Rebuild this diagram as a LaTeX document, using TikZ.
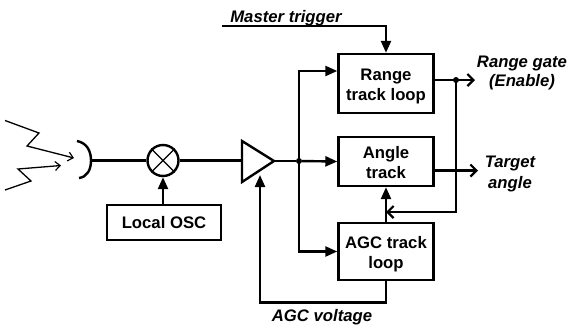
\documentclass[tikz,border=0pt]{standalone}
\usepackage{fontspec}
\setmainfont{Liberation Sans}
\usetikzlibrary{arrows.meta,calc}
\tikzset{
  blk/.style={draw=black,line width=2.4pt,fill=white,minimum width=95pt,align=center,font=\fontsize{16.7}{20}\selectfont\bfseries,inner sep=0pt},
  lbl/.style={align=center,font=\fontsize{16.7}{20}\selectfont\bfseries\itshape,inner sep=0pt},
  wire/.style={line width=2.4pt,draw=black},
  fa/.style={wire,-{Triangle[length=12pt,width=10pt]}},
  oa/.style={wire,-{Straight Barb[length=6pt,width=12pt,line width=2.2pt]}},
  thin arr/.style={line width=1.3pt,-{Straight Barb[length=5pt,width=9pt,line width=1.2pt]},line join=miter},
  dot/.style={circle,fill=black,minimum size=6pt,inner sep=0pt},
}
\begin{document}
\begin{tikzpicture}[x=1pt,y=-1pt]
\useasboundingbox (0,0) rectangle (568,325);
% blocks
\node[blk,minimum height=59pt] (range) at (386,83.5) {\rule{0pt}{17pt}Range\\[0pt]track loop};
\node[blk,minimum height=49pt] (angle) at (386,161.5) {\rule{0pt}{15pt}Angle\\[0pt]track};
\node[blk,minimum height=57pt] (agc) at (386,251.5) {\rule{0pt}{17pt}AGC track\\[0pt]loop};
\node[blk,minimum width=114pt,minimum height=35pt] (osc) at (164,222.5) {Local OSC};
% mixer
\node[circle,draw=black,line width=2.4pt,minimum size=31pt,inner sep=0pt] (mix) at (163,160.5) {};
\draw[line width=1.4pt] (mix.45) -- (mix.225) (mix.135) -- (mix.315);
% amplifier
\coordinate (a1) at (242,141);
\coordinate (a2) at (242,182);
\coordinate (a3) at (274,161);
\draw[wire,line join=miter] (a1) -- (a3) -- (a2) -- cycle;
% dish
\coordinate (d1) at (77,141);
\coordinate (d2) at (91,160.5);
\coordinate (d3) at (79,178);
\draw[wire] (d1) .. controls (87,143) and (91,151) .. (d2) .. controls (91,170) and (87,177) .. (d3);
% rays
\coordinate (r1) at (5,120.5);
\coordinate (r2) at (39,133);
\coordinate (r3) at (27,146);
\coordinate (r4) at (74,158);
\coordinate (s1) at (5,190);
\coordinate (s2) at (31,181);
\coordinate (s3) at (18,169);
\coordinate (s4) at (61,165.5);
\draw[thin arr] (r1) -- (r2) -- (r3) -- (r4);
\draw[thin arr] (s1) -- (s2) -- (s3) -- (s4);
% main line
\draw[wire] (d2) -- (mix);
\draw[wire] (mix) -- (242,160.5);
\node[dot] (j1) at (299,161) {};
\draw[wire] (a3) -- (j1);
\draw[fa] (osc.north -| mix) -- (mix.south);
% branches
\coordinate (rin) at ($(range.west)+(0,-12.5)$);
\draw[fa,line join=miter] (j1.center) -- (j1 |- rin) -- (rin);
\draw[fa] (j1) -- (angle.west);
\draw[fa,line join=miter] (j1.center) -- (j1 |- agc.west) -- (agc.west);
% master trigger
\coordinate (mt) at (222,26);
\draw[fa,line join=miter] (mt) -- (mt -| range.north) -- (range.north);
\node[lbl] (mtl) at (286,18) {Master trigger};
% range output
\coordinate (rout) at (434,80);
\node[dot] (j2) at (456,80) {};
\coordinate (rend) at (475,80);
\draw[oa] (rout) -- (rend);
\node[lbl] (rgl) at (522,72.5) {Range gate\\[-1pt](Enable)};
% angle output
\coordinate (aout) at (434,170.5);
\coordinate (aend) at (478,170.5);
\draw[oa] (aout) -- (aend);
\node[lbl] (tal) at (510,174) {Target\\[1pt]angle};
% agc to angle
\draw[fa] (agc.north) -- (angle.south);
\coordinate (fb) at (456,212);
\draw[oa,line join=miter] (j2.center) -- (fb) -- (fb -| agc.north);
% AGC voltage
\coordinate (v1) at (386,302.5);
\coordinate (v2) at (260,302.5);
\coordinate (v3) at (260,175);
\draw[fa,line join=miter] (agc.south) -- (v1) -- (v2) -- (v3);
\node[lbl] (agl) at (322,317) {AGC voltage};
\end{tikzpicture}
\end{document}
